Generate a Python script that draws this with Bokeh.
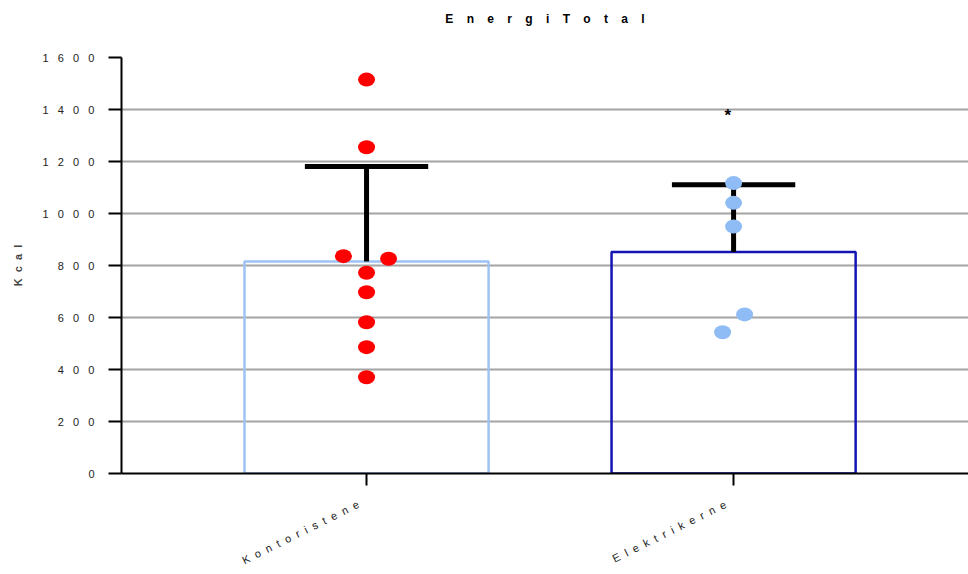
import math
from bokeh.plotting import figure
from bokeh.models import FixedTicker, Title
from bokeh.core.properties import value
from bokeh.embed import file_html
from bokeh.resources import INLINE

NB = "\u00a0"


def spaced(s, n):
    return (NB * n).join(list(s))


# ---- data ----
group_names = ["Kontoristene", "Elektrikerne"]
group_pos = [0, 1]
means = [815, 852]
sds = [366, 259]
bar_colors = ["#9cc3f2", "#1414b4"]

kont_vals = [1515, 1255, 836, 826, 772, 697, 582, 486, 370]
kont_jit = [0, 0, -0.063, 0.060, 0, 0, 0, 0, 0]
elek_vals = [1117, 1041, 950, 612, 543]
elek_jit = [0, 0, 0, 0.030, -0.030]

star_x = [0.984]
star_y = [1377]
star_txt = ["*"]

y_ticks = [0, 200, 400, 600, 800, 1000, 1200, 1400, 1600]
y_tick_labels = ["0", "200", "400", "600", "800", "1000", "1200", "1400", "1600"]

title_text = "EnergiTotal"
y_label = "Kcal"

FONT = "Liberation Sans"

p = figure(width=968, height=574, output_backend="svg", toolbar_location=None,
           x_range=(-0.6676, 1.640), y_range=(0, 1600),
           min_border_left=121, min_border_right=0, min_border_top=57, min_border_bottom=101)
# trailing blank lines lift the title away from the plot frame
p.add_layout(Title(text=spaced(title_text, 4) + "\n" + NB + "\n" + NB, align="center",
                   text_font=FONT, text_font_size="12px", text_font_style="bold",
                   text_color="black", text_line_height=1.1, standoff=2), "above")
p.outline_line_color = None
p.background_fill_color = "white"

# grid
p.xgrid.grid_line_color = None
p.ygrid.ticker = FixedTicker(ticks=y_ticks)
p.ygrid.grid_line_color = "#a4a4a4"
p.ygrid.grid_line_width = 2

# y axis
p.yaxis.ticker = FixedTicker(ticks=y_ticks)
p.yaxis.major_label_overrides = {t: spaced(l, 3) for t, l in zip(y_ticks, y_tick_labels)}
p.yaxis.axis_line_width = 2
p.yaxis.axis_line_color = "black"
p.yaxis.major_tick_line_width = 2
p.yaxis.major_tick_out = 13
p.yaxis.major_tick_in = 0
p.yaxis.minor_tick_line_color = None
p.yaxis.major_label_text_font = FONT
p.yaxis.major_label_text_font_size = "11px"
p.yaxis.major_label_text_color = "#222222"
p.yaxis.major_label_standoff = 14
p.yaxis.axis_label = spaced(y_label, 2)
p.yaxis.axis_label_text_font = FONT
p.yaxis.axis_label_text_font_size = "11px"
p.yaxis.axis_label_text_font_style = "bold"
p.yaxis.axis_label_standoff = 16

# x axis
p.xaxis.ticker = FixedTicker(ticks=group_pos)
p.xaxis.major_label_overrides = {g: spaced(n, 2) + NB * 3 for g, n in zip(group_pos, group_names)}
p.xaxis.axis_line_width = 2
p.xaxis.axis_line_color = "black"
p.xaxis.major_tick_line_width = 2
p.xaxis.major_tick_out = 12
p.xaxis.major_tick_in = 0
p.xaxis.minor_tick_line_color = None
p.xaxis.major_label_text_font = FONT
p.xaxis.major_label_text_font_size = "11px"
p.xaxis.major_label_text_color = "#222222"
p.xaxis.major_label_orientation = 0.46
p.xaxis.major_label_standoff = 14

# bars
p.vbar(x=group_pos, top=means, bottom=0, width=0.665, fill_alpha=0,
       line_color=bar_colors, line_width=2.5)

# error bars
tops = [m + s for m, s in zip(means, sds)]
p.segment(x0=group_pos, y0=means, x1=group_pos, y1=tops, line_color="black", line_width=5)
p.segment(x0=[g - 0.168 for g in group_pos], y0=tops, x1=[g + 0.168 for g in group_pos], y1=tops,
          line_color="black", line_width=5)

# points
p.ellipse(x=[group_pos[0] + j for j in kont_jit], y=kont_vals, width=17, height=14,
          width_units="screen", height_units="screen", fill_color="#ff0000", line_color=None)
p.ellipse(x=[group_pos[1] + j for j in elek_jit], y=elek_vals, width=17, height=14,
          width_units="screen", height_units="screen", fill_color="#8fbcf4", line_color=None)

p.text(x=star_x, y=star_y, text=star_txt, text_align="center", text_baseline="middle",
       text_font=value(FONT), text_font_size="17px", text_font_style="bold", text_color="black")

open("out.html", "w").write(file_html(p, INLINE))
